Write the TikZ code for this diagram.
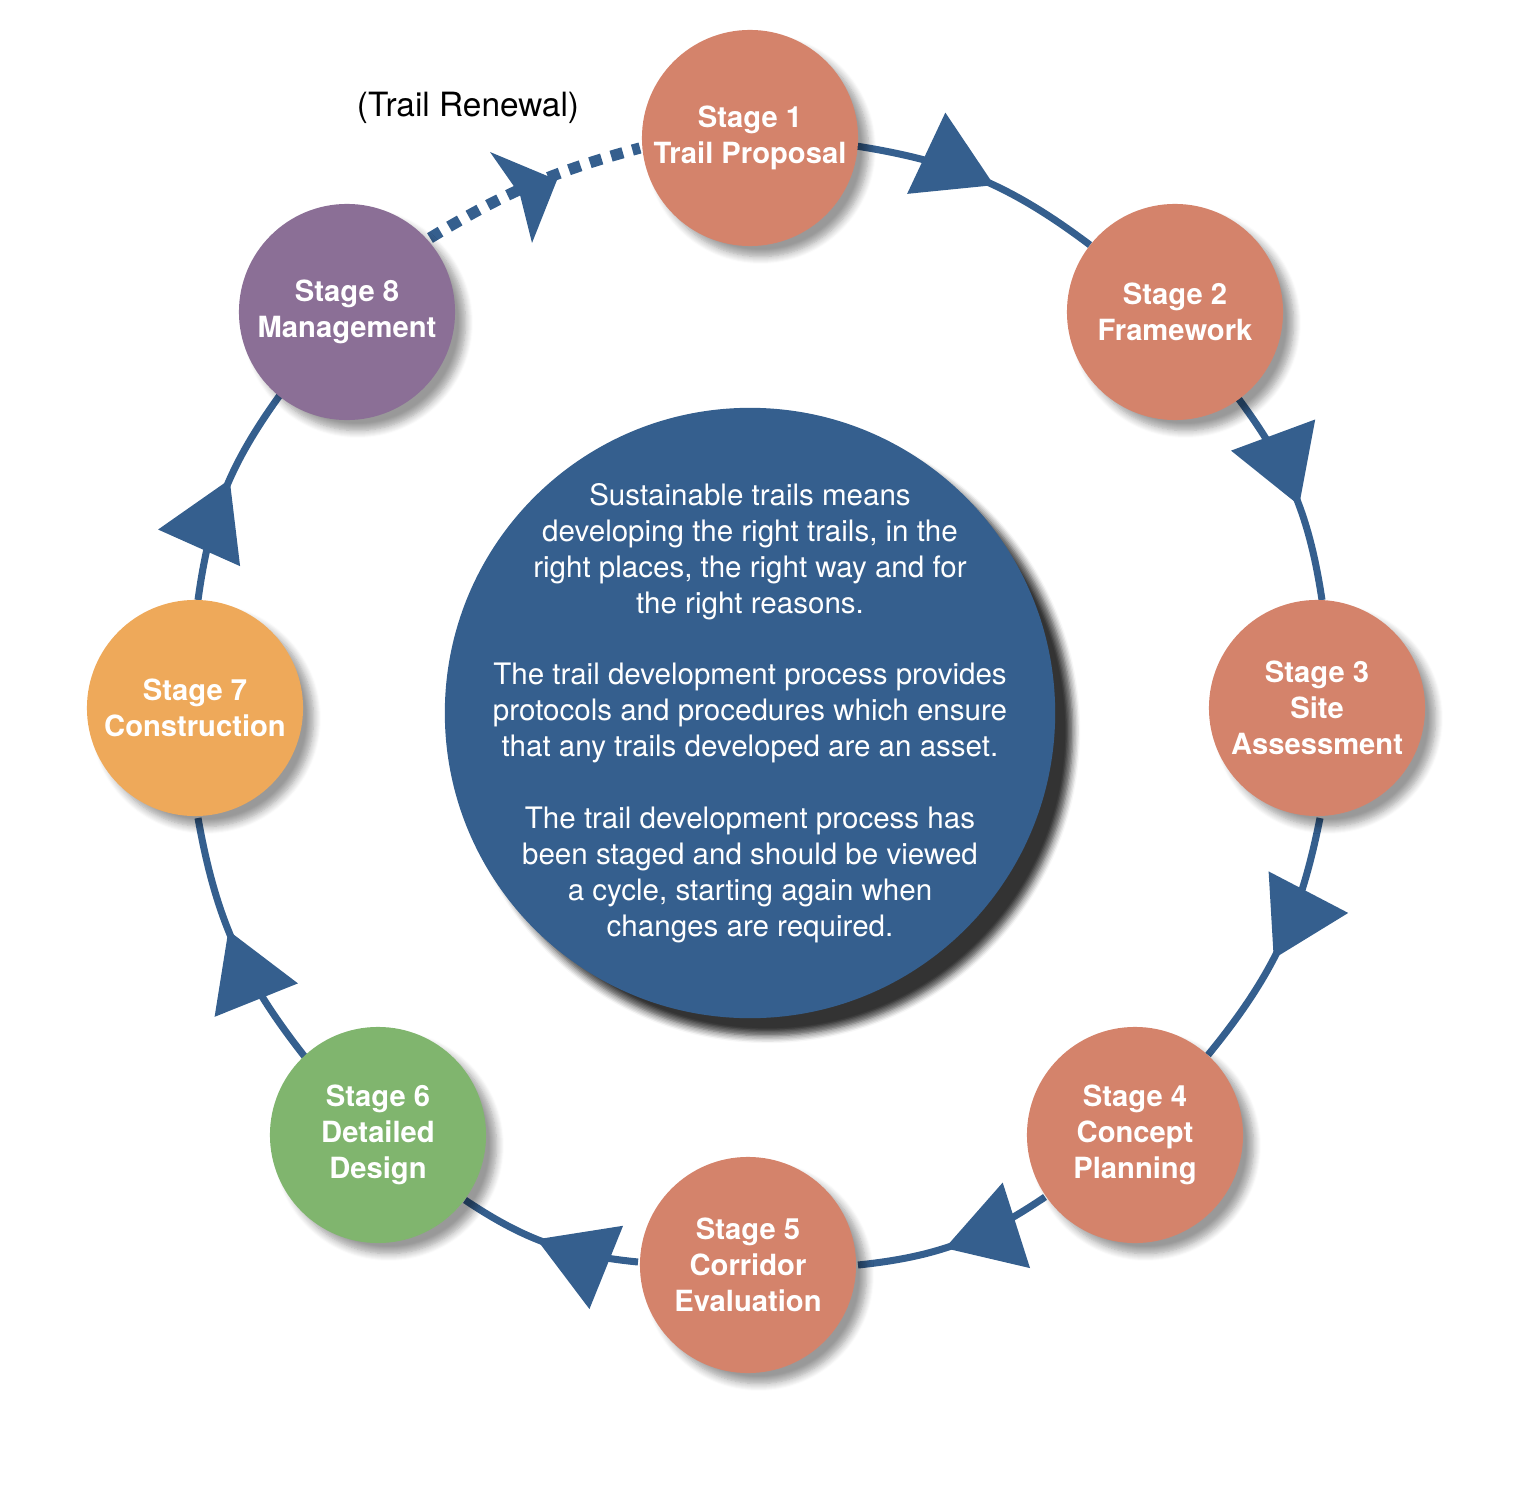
\documentclass[tikz,border=0pt]{standalone}
\usepackage{fontspec}
\setmainfont{TeX Gyre Heros}
\usetikzlibrary{shadows.blur,decorations.markings,arrows.meta}
\definecolor{salmon}{HTML}{D4836B}
\definecolor{purp}{HTML}{8B6F96}
\definecolor{orng}{HTML}{EEA95A}
\definecolor{grn}{HTML}{80B56E}
\definecolor{blu}{HTML}{355F8E}
\begin{document}
\begin{tikzpicture}[x=0.01cm,y=-0.01cm,
 stage/.style={circle,minimum size=2.16cm,inner sep=0pt,text=white,font=\fontsize{8.3}{10.2}\selectfont\bfseries,align=center,
   blur shadow={shadow xshift=3pt,shadow yshift=-3pt,shadow blur steps=8,shadow opacity=40}},
 conn/.style={draw=blu,line width=2pt,postaction={decorate},decoration={markings,mark=at position 0.56 with {\arrow{Triangle[length=0.75cm,width=0.88cm]}}}}]
\useasboundingbox (0,0) rectangle (1536,1488);
\node[circle,minimum size=6.1cm,inner sep=0pt,fill=blu,
  blur shadow={shadow xshift=5pt,shadow yshift=-5pt,shadow blur steps=6,shadow opacity=80}] (c) at (750,713) {};
\node[text=white,align=center,font=\fontsize{8.4}{10.2}\selectfont] (ct) at (c.center)
 {Sustainable trails means\\developing the right trails, in the\\right places, the right way and for\\the right reasons.\\[10.2pt]
  The trail development process provides\\protocols and procedures which ensure\\that any trails developed are an asset.\\[10.2pt]
  The trail development process has\\been staged and should be viewed\\a cycle, starting again when\\changes are required.};
\draw[conn] (856,146) to[bend left=14] (1090,245);
\draw[conn] (1238,398) to[bend left=14] (1322,600);
\draw[conn] (1320,818) to[bend left=14] (1208,1055);
\draw[conn] (1045,1197) to[bend left=14] (858,1265);
\draw[conn] (638,1262) to[bend left=14] (465,1200);
\draw[conn] (305,1057) to[bend left=14] (198,818);
\draw[conn] (198,600) to[bend left=14] (280,395);
\draw[blu,line width=3.2pt,dash pattern=on 3.5pt off 2.8pt] (430,238) to[bend left=8] (640,148);
\fill[blu] (490,152) -- (557,180) -- (532,243) -- (520,195) -- cycle;
\node[stage,fill=salmon] (s1) at (750,138) {Stage 1\\Trail Proposal};
\node[stage,fill=salmon] (s2) at (1175,312) {Stage 2\\Framework};
\node[stage,fill=salmon] (s3) at (1317,708) {Stage 3\\Site\\Assessment};
\node[stage,fill=salmon] (s4) at (1135,1135) {Stage 4\\Concept\\Planning};
\node[stage,fill=salmon] (s5) at (748,1265) {Stage 5\\Corridor\\Evaluation};
\node[stage,fill=grn] (s6) at (378,1135) {Stage 6\\Detailed\\Design};
\node[stage,fill=orng] (s7) at (195,708) {Stage 7\\Construction};
\node[stage,fill=purp] (s8) at (347,312) {Stage 8\\Management};
\node[font=\fontsize{9.5}{11}\selectfont] (tr) at (468,108) {(Trail Renewal)};
\end{tikzpicture}
\end{document}
